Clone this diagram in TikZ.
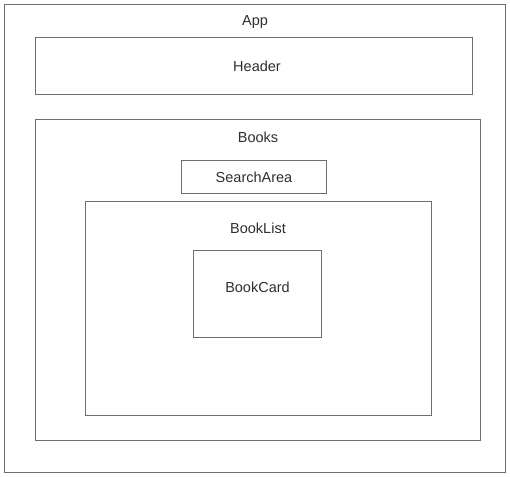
\documentclass[tikz,border=0pt]{standalone}
\usepackage{fontspec}
\setmainfont{Liberation Sans}
\usepackage{tikz}

\definecolor{linegray}{HTML}{6E6E6E}
\definecolor{textgray}{HTML}{2E2E2E}

\begin{document}
\begin{tikzpicture}[x=1pt,y=-1pt,
        box/.style={draw=linegray,line width=0.9pt},
        lbl/.style={font=\fontsize{14.5}{17}\selectfont,text=textgray,anchor=base,inner sep=0pt}]
        \path[use as bounding box] (0,0) rectangle (510,476);
        % App
        \begin{scope}
            \draw[box] (4,4) coordinate (app nw) rectangle (505.5,472.5) coordinate (app se);
            \node[lbl] (app) at (255,26) {App};
        \end{scope}
        % Header
        \begin{scope}
            \draw[box] (35,37) coordinate (header nw) rectangle (472,94) coordinate (header se);
            \node[lbl] (header) at (257,71.5) {Header};
        \end{scope}
        % Books
        \begin{scope}
            \draw[box] (35,119) coordinate (books nw) rectangle (480,440) coordinate (books se);
            \node[lbl] (books) at (258,142) {Books};
            \draw[box] (181.5,160) coordinate (search nw) rectangle (326,193) coordinate (search se);
            \node[lbl] (search) at (254,182) {SearchArea};
        \end{scope}
        % BookList
        \begin{scope}
            \draw[box] (85,201) coordinate (list nw) rectangle (431.5,415) coordinate (list se);
            \node[lbl] (list) at (258,233) {BookList};
            \draw[box] (193.5,250.5) coordinate (card nw) rectangle (321.5,337) coordinate (card se);
            \node[lbl] (card) at (257.5,292.5) {BookCard};
        \end{scope}
    \end{tikzpicture}
\end{document}
